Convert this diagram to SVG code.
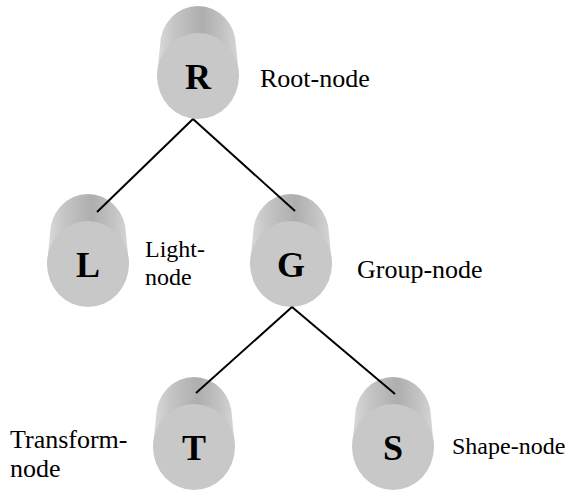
<svg xmlns="http://www.w3.org/2000/svg" xmlns:xlink="http://www.w3.org/1999/xlink" width="578" height="490" viewBox="0 0 578 490">
  <style>
    .label { font-family: "Liberation Serif", "Times New Roman", serif; font-size: 26px; fill: #000; }
    .small { font-size: 24px; }
    .letter { font-family: "Liberation Serif", "Times New Roman", serif; font-size: 36px; font-weight: bold; fill: #000; text-anchor: middle; }
    .edge { stroke: #000; stroke-width: 2; fill: none; }
    .face { fill: #c8c8c8; }
  </style>
  <defs>
    <!-- shaded side of the cylinder, lighter at the rims -->
    <linearGradient id="side" gradientUnits="userSpaceOnUse" x1="-41" y1="0" x2="41" y2="0">
      <stop offset="0" stop-color="#dadada"/>
      <stop offset="0.2" stop-color="#c6c6c6"/>
      <stop offset="0.55" stop-color="#aeaeae"/>
      <stop offset="0.8" stop-color="#c2c2c2"/>
      <stop offset="1" stop-color="#d6d6d6"/>
    </linearGradient>
    <!-- cylinder drawn around the centre of its front face -->
    <g id="cyl">
      <path d="M-41,0 L-38,-30 A38,40 0 0 1 38,-30 L41,0 Z" fill="url(#side)"/>
      <ellipse class="face" cx="0" cy="0" rx="41" ry="43"/>
    </g>
  </defs>

  <rect width="578" height="490" fill="#fff"/>

  <g id="node-R" transform="translate(198,76)">
    <use xlink:href="#cyl"/>
    <text class="letter" x="0" y="13">R</text>
  </g>
  <g id="node-L" transform="translate(88,264)">
    <use xlink:href="#cyl"/>
    <text class="letter" x="0" y="13">L</text>
  </g>
  <g id="node-G" transform="translate(291,264)">
    <use xlink:href="#cyl"/>
    <text class="letter" x="0" y="13">G</text>
  </g>
  <g id="node-T" transform="translate(194,447)">
    <use xlink:href="#cyl"/>
    <text class="letter" x="0" y="13">T</text>
  </g>
  <g id="node-S" transform="translate(393,447)">
    <use xlink:href="#cyl"/>
    <text class="letter" x="0" y="13">S</text>
  </g>

  <g id="connectors">
    <line class="edge" x1="193" y1="119" x2="97" y2="212"/>
    <line class="edge" x1="193" y1="119" x2="295" y2="211"/>
    <line class="edge" x1="292" y1="307" x2="196" y2="393"/>
    <line class="edge" x1="292" y1="307" x2="395" y2="394"/>
  </g>

  <g id="labels">
    <text class="label" x="260" y="87">Root-node</text>
    <text class="label small" x="145" y="257">Light-</text>
    <text class="label small" x="145" y="285">node</text>
    <text class="label" x="357" y="278">Group-node</text>
    <text class="label" x="10" y="448">Transform-</text>
    <text class="label" x="10" y="477">node</text>
    <text class="label small" x="452" y="454">Shape-node</text>
  </g>
</svg>
